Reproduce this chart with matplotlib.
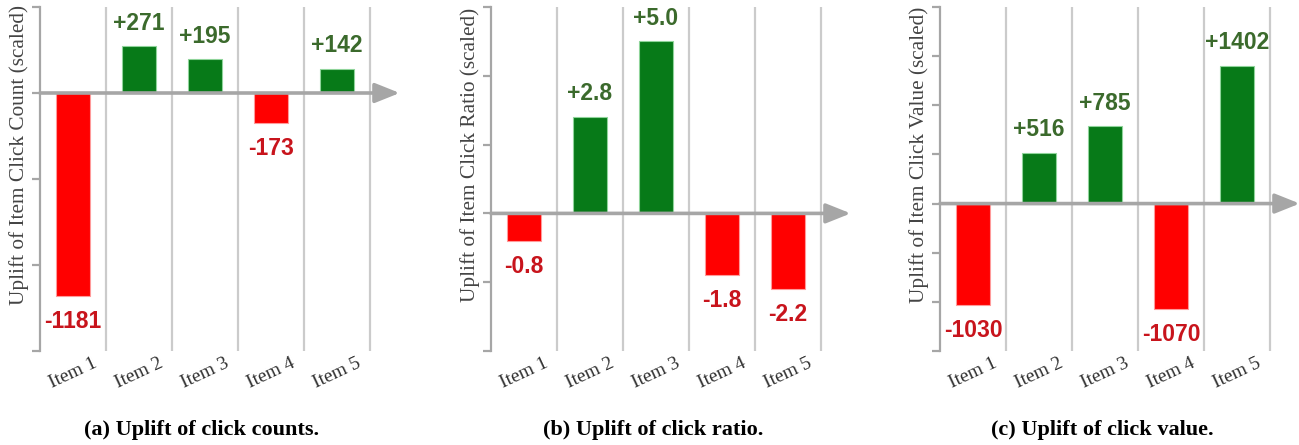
import numpy as np
import matplotlib.pyplot as plt

# Datos de los tres paneles
items = ['Item 1', 'Item 2', 'Item 3', 'Item 4', 'Item 5']
click_count = [-1181, 271, 195, -173, 142]
click_ratio = [-0.8, 2.8, 5.0, -1.8, -2.2]
click_value = [-1030, 516, 785, -1070, 1402]

count_labels = ['-1181', '+271', '+195', '-173', '+142']
ratio_labels = ['-0.8', '+2.8', '+5.0', '-1.8', '-2.2']
value_labels = ['-1030', '+516', '+785', '-1070', '+1402']

ylabels = ['Uplift of Item Click Count (scaled)',
           'Uplift of Item Click Ratio (scaled)',
           'Uplift of Item Click Value (scaled)']
captions = ['(a) Uplift of click counts.',
            '(b) Uplift of click ratio.',
            '(c) Uplift of click value.']

# Limites y ticks del eje Y de cada panel
ylims = [(-1500, 500), (-4, 6), (-1500, 2000)]
ysteps = [500, 2, 500]

# Colores
verde, rojo = '#077a18', '#ff0000'
verde_txt, rojo_txt = '#3b6a2c', '#c8141c'
gris_eje, gris_sep = '#a6a6a6', '#cbcbcb'

w, h = 12.99, 4.45
fig = plt.figure(figsize=(w, h), dpi=100)

lefts = [40, 491, 940]          # posicion del eje Y en pixeles
cap_x = [202, 653, 1102]        # centro de cada subtitulo
datos = [click_count, click_ratio, click_value]
textos = [count_labels, ratio_labels, value_labels]

x = np.arange(len(items)) + 0.5

for k in range(3):
    ax = fig.add_axes([lefts[k] / 1299, 1 - 351 / 445, 363 / 1299, 344 / 445])
    vals = datos[k]
    colores = [verde if v > 0 else rojo for v in vals]
    bordes = ['#8fd49a' if v > 0 else '#ff9a9a' for v in vals]
    ax.bar(x, vals, width=0.53, color=colores, edgecolor=bordes, linewidth=0.8, zorder=2)

    # Separadores verticales entre items
    for s in range(1, 6):
        ax.axvline(s, color=gris_sep, lw=1.6, zorder=1)

    # Eje horizontal con flecha
    ax.annotate('', xy=(5.45, 0), xytext=(0, 0),
                arrowprops=dict(arrowstyle='-|>,head_length=0.75,head_width=0.3',
                                color=gris_eje, lw=2.6, shrinkA=0, shrinkB=0,
                                mutation_scale=20),
                annotation_clip=False, zorder=3)

    # Etiquetas de valores
    for xi, v, t in zip(x, vals, textos[k]):
        if v > 0:
            ax.annotate(t, (xi, v), xytext=(0, 12), textcoords='offset points',
                        ha='center', va='baseline', fontsize=16.5, fontweight='bold',
                        color=verde_txt, family='Liberation Sans')
        else:
            ax.annotate(t, (xi, v), xytext=(0, -10), textcoords='offset points',
                        ha='center', va='top', fontsize=16.5, fontweight='bold',
                        color=rojo_txt, family='Liberation Sans')

    ax.set_xlim(0, 5.5)
    ax.set_ylim(*ylims[k])
    ax.set_yticks(np.arange(ylims[k][0], ylims[k][1] + ysteps[k] / 2, ysteps[k]))
    ax.set_yticklabels([])
    ax.set_xticks(x)
    ax.set_xticklabels(items, rotation=25, ha='center', fontsize=14,
                       family='Liberation Serif', color='#333333')
    ax.tick_params(axis='x', length=0, pad=3)
    ax.tick_params(axis='y', length=6, width=1.6, color=gris_eje, direction='out')

    for lado in ['top', 'right', 'bottom']:
        ax.spines[lado].set_visible(False)
    ax.spines['left'].set_color(gris_eje)
    ax.spines['left'].set_linewidth(1.6)

    ax.text(-0.057, 0.57, ylabels[k], transform=ax.transAxes, rotation=90,
            ha='center', va='center', fontsize=15.3, family='Liberation Serif',
            color='#444444')

    fig.text(cap_x[k] / 1299, 1 - 430 / 445, captions[k], ha='center', va='center',
             fontsize=16, fontweight='bold', family='Liberation Serif', color='black')

fig.savefig('out.png', dpi=100)
